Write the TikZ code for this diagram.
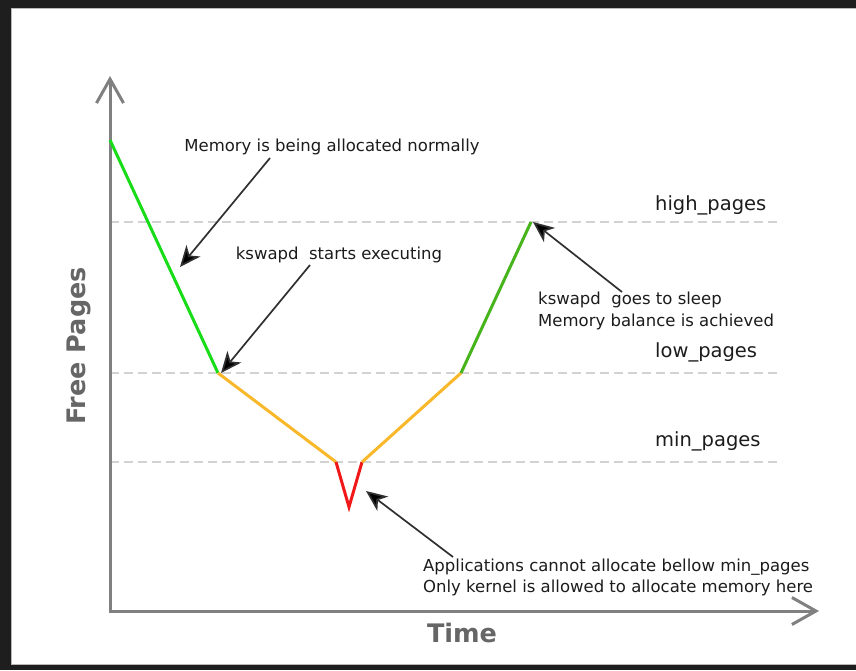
\documentclass[tikz,border=0pt]{standalone}
\usepackage{fontspec}
\setmainfont{DejaVu Sans}
\usetikzlibrary{arrows.meta}
\definecolor{frame}{HTML}{1E1E1E}
\definecolor{axisgray}{HTML}{808080}
\definecolor{dashgray}{HTML}{D2D2D2}
\definecolor{txt}{HTML}{1C1C1C}
\definecolor{axtxt}{HTML}{666666}
\definecolor{greenA}{HTML}{18DC18}
\definecolor{greenB}{HTML}{48B41C}
\definecolor{orangeA}{HTML}{F8B82A}
\definecolor{redA}{HTML}{F01818}
\definecolor{arrowc}{HTML}{303030}
\tikzset{
  axisline/.style={draw=axisgray, line width=3pt, -{Straight Barb[length=24pt,width=27pt,line width=3pt]}},
  levelline/.style={draw=dashgray, line width=2.6pt, dash pattern=on 9pt off 5pt},
  curve/.style={line width=3pt, line join=miter},
  note/.style={text=txt, font=\fontsize{16.5}{21.5}\selectfont, inner sep=0pt},
  levellabel/.style={text=txt, font=\fontsize{19.5}{23}\selectfont, inner sep=0pt, anchor=west},
  axislabel/.style={text=axtxt, font=\fontsize{25.5}{28}\selectfont\bfseries, inner sep=0pt},
  pointer/.style={draw=arrowc, line width=1.7pt, -{Stealth[length=21pt,width=18pt,inset=6pt,fill=black]}},
}
\begin{document}
\begin{tikzpicture}[x=1pt,y=-1pt]
\useasboundingbox (0,0) rectangle (856,670);
\fill[frame] (0,0) rectangle (856,670);
\fill[white] (11,8) rectangle (856,664);
\draw[gray!55, line width=0.8pt] (11,8) -- (856,8);
\draw[gray!55, line width=0.8pt] (11,8) -- (11,664) -- (856,664);

% level lines
\coordinate (hl0) at (110,222); \coordinate (hl1) at (782,222);
\coordinate (ll0) at (110,373); \coordinate (ll1) at (782,373);
\coordinate (ml0) at (110,462); \coordinate (ml1) at (782,462);
\draw[levelline] (hl0) -- (hl1);
\draw[levelline] (ll0) -- (ll1);
\draw[levelline] (ml0) -- (ml1);

% axes
\coordinate (origin) at (110,611);
\coordinate (ytip) at (110,76);
\coordinate (xtip) at (819,611);
\draw[axisline] (origin) -- (ytip);
\draw[axisline] (origin) -- (xtip);
\draw[draw=axisgray, line width=3pt] (110,612.5) -- (110,609);

% curve points
\coordinate (p0) at (110,140);
\coordinate (p1) at (218,373);
\coordinate (p2) at (336,462);
\coordinate (p3) at (349,507);
\coordinate (p4) at (362,462);
\coordinate (p5) at (461,373);
\coordinate (p6) at (531,222);
\draw[curve, greenA] (p0) -- (p1);
\draw[curve, orangeA] (p1) -- (p2);
\draw[curve, redA] (p2) -- (p3) -- (p4);
\draw[curve, orangeA] (p4) -- (p5);
\draw[curve, greenB] (p5) -- (p6);

% level labels
\node[levellabel] (high) at (655,205) {high\_pages};
\node[levellabel] (low) at (655,352) {low\_pages};
\node[levellabel] (min) at (655,441) {min\_pages};

% axis labels
\node[axislabel, rotate=90] (ylab) at (79,346) {Free Pages};
\node[axislabel] (xlab) at (462,633) {Time};

% notes
\node[note] (n1) at (332,147) {Memory is being allocated normally};
\node[note] (n2) at (339,255) {kswapd\ \ starts executing};
\node[note, align=left, anchor=west] (n3) at (538,311) {kswapd\ \ goes to sleep\\Memory balance is achieved};
\node[note, align=left, anchor=west] (n4) at (423,577.5) {Applications cannot allocate bellow min\_pages\\Only kernel is allowed to allocate memory here};

% pointers
\coordinate (a1s) at (270,158); \coordinate (a1e) at (180,267);
\coordinate (a2s) at (310,265); \coordinate (a2e) at (221,373);
\coordinate (a3s) at (622,292); \coordinate (a3e) at (533,222);
\coordinate (a4s) at (453,557); \coordinate (a4e) at (366,491);
\draw[pointer] (a1s) -- (a1e);
\draw[pointer] (a2s) -- (a2e);
\draw[pointer] (a3s) -- (a3e);
\draw[pointer] (a4s) -- (a4e);
\end{tikzpicture}
\end{document}
